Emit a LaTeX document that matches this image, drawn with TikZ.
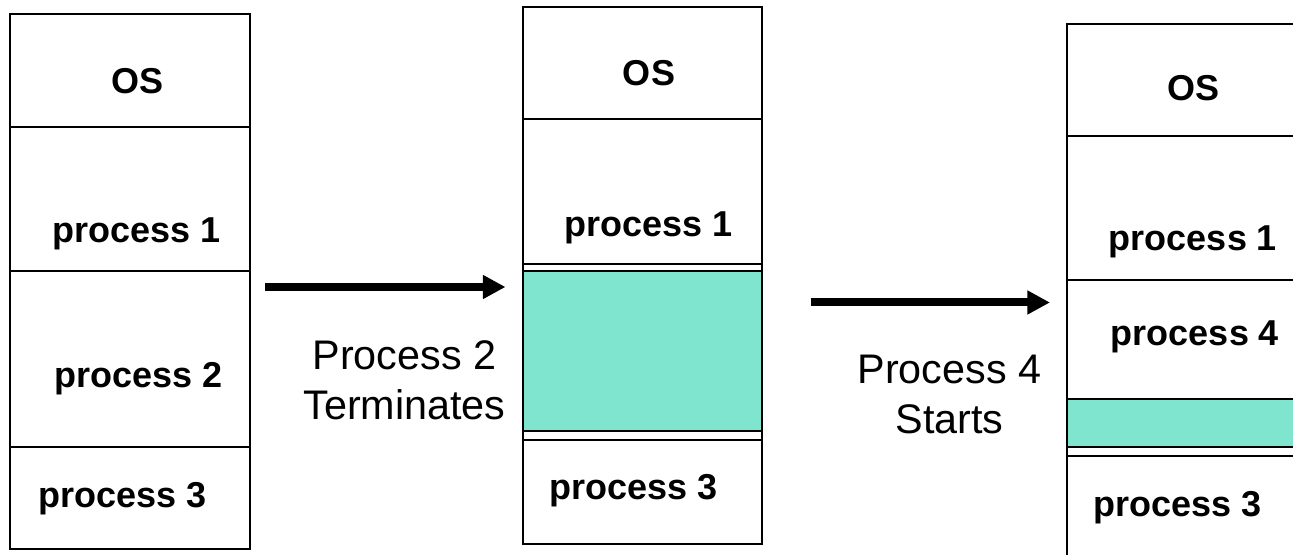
\documentclass[tikz,border=0pt]{standalone}
\usepackage{fontspec}
\setmainfont{Liberation Sans}
\usetikzlibrary{arrows.meta}
\definecolor{holefill}{RGB}{128,229,206}
\begin{document}
\begin{tikzpicture}[x=0.75pt,y=-0.75pt,
  mem/.style={draw=black,line width=1.5pt},
  hole/.style={mem,fill=holefill},
  seg/.style={font=\fontsize{27}{32}\selectfont\bfseries,inner sep=0pt,anchor=base},
  event/.style={font=\fontsize{31}{37.5}\selectfont,align=center,inner sep=0pt,anchor=north},
  move/.style={line width=6pt,-{Triangle[length=17pt,width=17pt]}}]
\useasboundingbox[fill=white] (0,0) rectangle (1293,555);
\clip (0,0) rectangle (1293,555);

% memory before: OS, process 1, process 2, process 3
\draw[mem] (10,14) rectangle (250,549);
\draw[mem] (10,127) -- (250,127) (10,271) -- (250,271) (10,447) -- (250,447);
\node[seg] (osA) at (137.5,94) {OS};
\node[seg] (p1A) at (137,243) {process 1};
\node[seg] (p2A) at (139,388) {process 2};
\node[seg] (p3A) at (123,508) {process 3};

% memory after process 2 ends: a hole where it was
\draw[mem] (522.5,7.5) rectangle (762,544);
\draw[mem] (522.5,119) -- (762,119) (522.5,264) -- (762,264) (522.5,440) -- (762,440);
\draw[hole] (522.5,271) rectangle (762,431);
\node[seg] (osB) at (649,86) {OS};
\node[seg] (p1B) at (649,237) {process 1};
\node[seg] (p3B) at (634,500) {process 3};

% memory after process 4 is loaded into part of the hole
\draw[mem] (1300,24) -- (1066.5,24) -- (1066.5,560);
\draw[mem] (1066.5,136) -- (1300,136) (1066.5,280) -- (1300,280) (1066.5,456) -- (1300,456);
\draw[hole] (1066.5,399) rectangle (1300,447);
\node[seg] (osC) at (1193,101) {OS};
\node[seg] (p1C) at (1193,251) {process 1};
\node[seg] (p4C) at (1195,346) {process 4};
\node[seg] (p3C) at (1177.5,517) {process 3};

% transitions
\coordinate (fromA) at (265,287);
\coordinate (toB) at (505.5,287);
\coordinate (fromB) at (810.5,302.5);
\coordinate (toC) at (1050,302.5);
\draw[move] (fromA) -- (toB);
\draw[move] (fromB) -- (toC);
\node[event] (evA) at (404.5,340) {Process 2\\Terminates};
\node[event] (evB) at (949.5,355) {Process 4\\Starts};
\end{tikzpicture}
\end{document}
